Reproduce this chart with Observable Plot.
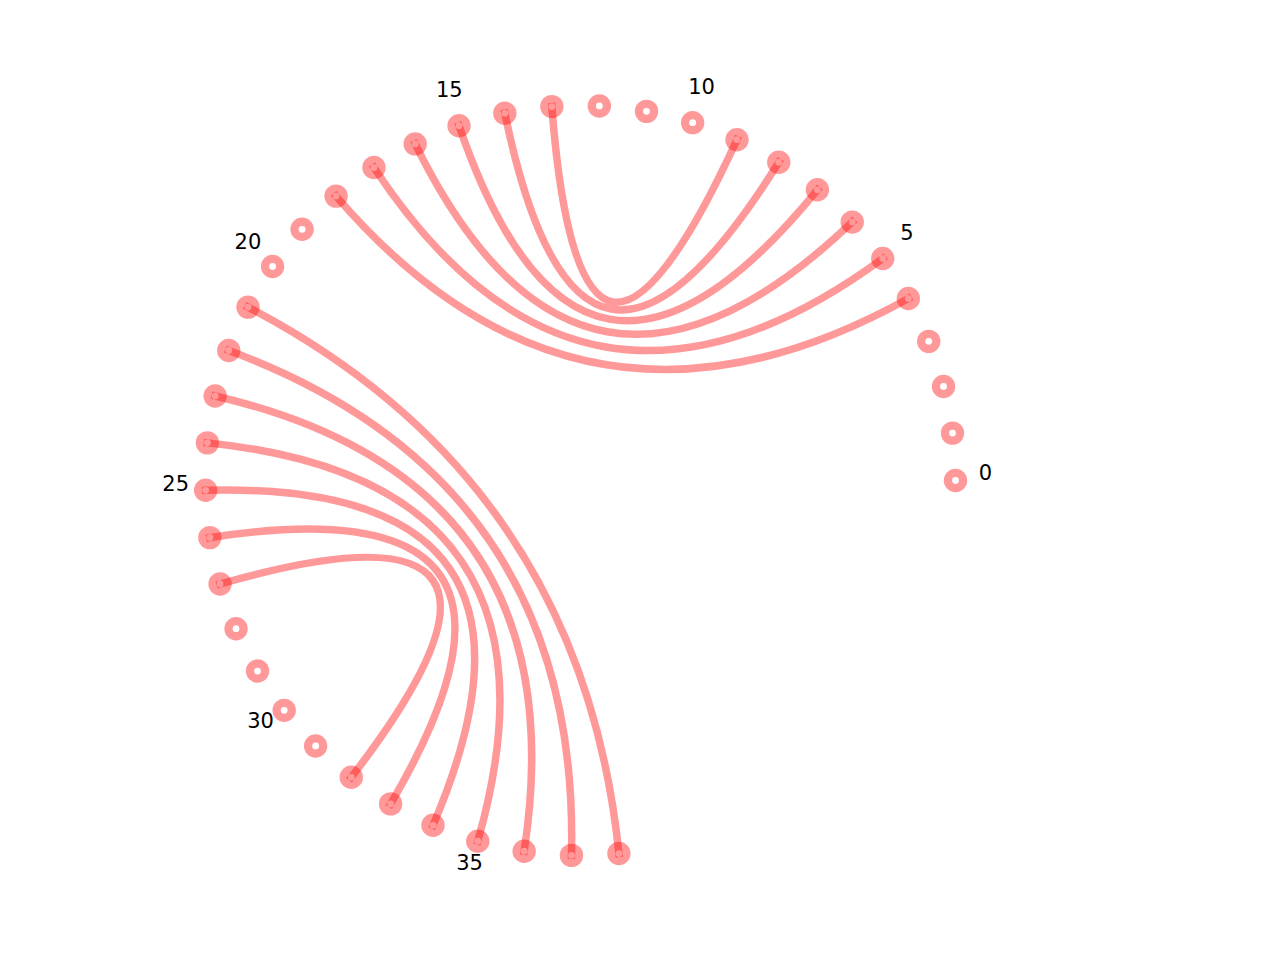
<!DOCTYPE html>
<html>
<head>
<meta charset="utf-8">
<script src="https://cdn.jsdelivr.net/npm/d3@7"></script>
<script src="https://cdn.jsdelivr.net/npm/@observablehq/plot@0.6"></script>
<style>
  html, body { margin: 0; padding: 0; background: #fff; }
  #chart { width: 1280px; height: 960px; }
</style>
</head>
<body>
<div id="chart"></div>
<script>
// ---- data ----
const nodeIds = d3.range(0, 39);                 // 39 nodes around the circle
const angleStepDeg = 7.26;                        // angular spacing between nodes
const tickLabels = [0, 5, 10, 15, 20, 25, 30, 35];
const pairFrom = [4, 5, 6, 7, 8, 9, 21, 22, 23, 24, 25, 26, 27];
const pairTo   = [18, 17, 16, 15, 14, 13, 38, 37, 36, 35, 34, 33, 32];

// ---- derived tables ----
const pos = (i, r = 1) => {
  const a = i * angleStepDeg * Math.PI / 180;
  return {x: r * Math.cos(a), y: r * Math.sin(a)};
};
const nodes = nodeIds.map(i => ({id: i, ...pos(i)}));
const labels = tickLabels.map(i => ({id: i, ...pos(i, 1.08)}));
const arcPts = [];
pairFrom.forEach((a, k) => {
  const b = pairTo[k];
  arcPts.push({pair: k, ...pos(a)});
  arcPts.push({pair: k, x: 0, y: 0});   // control point at the circle centre
  arcPts.push({pair: k, ...pos(b)});
});

// quadratic Bézier curve through (start, control, end)
function quadCurve(context) {
  let pts = [];
  return {
    areaStart() {}, areaEnd() {},
    lineStart() { pts = []; },
    lineEnd() {
      if (pts.length === 3) {
        context.moveTo(pts[0][0], pts[0][1]);
        context.quadraticCurveTo(pts[1][0], pts[1][1], pts[2][0], pts[2][1]);
      }
    },
    point(x, y) { pts.push([+x, +y]); }
  };
}

const chart = Plot.plot({
  width: 1280,
  height: 960,
  marginLeft: 205,
  marginRight: 325,
  marginTop: 105,
  marginBottom: 105,
  x: {domain: [-1, 1], axis: null},
  y: {domain: [-1, 1], axis: null},
  style: {fontFamily: "DejaVu Sans", background: "white"},
  marks: [
    Plot.dot(nodes, {x: "x", y: "y", r: 11.7, fill: "red", fillOpacity: 0.4, stroke: "none"}),
    Plot.dot(nodes, {x: "x", y: "y", r: 3.4, fill: "white", stroke: "none"}),
    Plot.line(arcPts, {x: "x", y: "y", z: "pair", curve: quadCurve,
      stroke: "red", strokeOpacity: 0.4, strokeWidth: 7.5, strokeLinecap: "square"}),
    Plot.text(labels, {x: "x", y: "y", text: d => String(d.id), fontSize: 21, dy: -7,
      fill: "black", textAnchor: "middle", lineAnchor: "middle"})
  ]
});
document.getElementById("chart").appendChild(chart);
</script>
</body>
</html>
